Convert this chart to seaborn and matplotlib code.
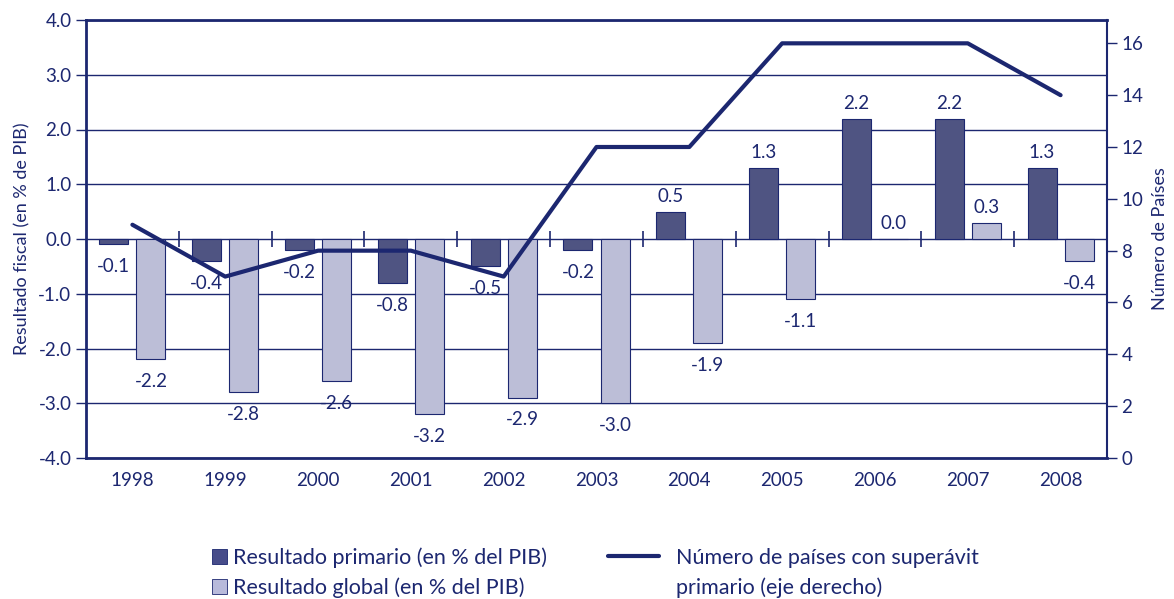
import numpy as np
import pandas as pd
import seaborn as sns
import matplotlib.pyplot as plt
from matplotlib.patches import Patch
from matplotlib.lines import Line2D

years = ["1998", "1999", "2000", "2001", "2002", "2003", "2004", "2005", "2006", "2007", "2008"]
primario = [-0.1, -0.4, -0.2, -0.8, -0.5, -0.2, 0.5, 1.3, 2.2, 2.2, 1.3]
global_ = [-2.2, -2.8, -2.6, -3.2, -2.9, -3.0, -1.9, -1.1, 0.0, 0.3, -0.4]
paises = [9, 7, 8, 8, 7, 12, 12, 16, 16, 16, 14]

lab_prim = "Resultado primario (en % del PIB)"
lab_glob = "Resultado global (en % del PIB)"
lab_line = ["Número de países con superávit", "primario (eje derecho)"]

navy = "#1c2770"
c_prim = "#474d8a"
c_glob = "#b8badb"

sns.set_style("white")
plt.rcParams["font.family"] = ["Lato", "DejaVu Sans"]

df = pd.DataFrame({
    "Año": years * 2,
    "valor": primario + global_,
    "serie": [lab_prim] * len(years) + [lab_glob] * len(years),
})

fig = plt.figure(figsize=(11.74, 5.99), dpi=100)
ax = fig.add_axes([86 / 1174, 1 - 458 / 599, (1107 - 86) / 1174, (458 - 20) / 599])

sns.barplot(data=df, x="Año", y="valor", hue="serie", ax=ax,
            palette=[c_prim, c_glob], gap=0.22, edgecolor=navy, linewidth=0.8,
            legend=False)

# value labels
for cont in ax.containers:
    for bar in cont:
        v = bar.get_height()
        xc = bar.get_x() + bar.get_width() / 2
        off = -16 if v < 0 else 11
        ax.annotate(f"{v:.1f}", (xc, v), xytext=(0, off), textcoords="offset points",
                    ha="center", va="center", fontsize=13.5, color=navy)

ax.set_ylim(-4, 4)
ax.set_xlim(-0.5, len(years) - 0.5)
ax.set_yticks(np.arange(-4, 5, 1))
ax.set_yticklabels([f"{t:.1f}" for t in np.arange(-4, 5, 1)])
ax.grid(axis="y", color=navy, linewidth=1.0)
ax.set_axisbelow(True)
ax.set_xlabel("")
ax.set_ylabel("Resultado fiscal (en % de PIB)", color=navy, fontsize=13, labelpad=6)

# ticks on the zero line between categories
bounds = np.arange(len(years) - 1) + 0.5
ax.vlines(bounds, -0.15, 0.15, color=navy, linewidth=1.2, zorder=3)
ax.set_xticks(bounds, minor=True)
ax.tick_params(axis="x", which="major", length=0, colors=navy, labelsize=13.5, pad=10)
ax.tick_params(axis="x", which="minor", length=6, width=1.2, color=navy, direction="out")
ax.tick_params(axis="y", length=7, width=1, color=navy, labelcolor=navy, labelsize=13.5, direction="out")

for side in ["left", "bottom", "top"]:
    ax.spines[side].set_color(navy)
    ax.spines[side].set_linewidth(2)
ax.spines["right"].set_visible(False)

ax2 = ax.twinx()
sns.lineplot(x=np.arange(len(years)), y=paises, ax=ax2, color=navy, linewidth=3,
             legend=False)
ax2.set_ylim(0, 16.9)
ax2.set_yticks(range(0, 17, 2))
ax2.tick_params(axis="y", length=7, width=1, color=navy, labelcolor=navy, labelsize=13.5, direction="out")
ax2.set_ylabel("Número de Países", color=navy, fontsize=13, labelpad=6)
for side in ["left", "bottom", "top"]:
    ax2.spines[side].set_visible(False)
ax2.spines["right"].set_color(navy)
ax2.spines["right"].set_linewidth(1.5)

h_bars = [Patch(facecolor=c_prim, edgecolor=navy, linewidth=0.6),
          Patch(facecolor=c_glob, edgecolor=navy, linewidth=0.6)]
leg_kw = dict(loc="upper left", frameon=False, fontsize=15.5, labelspacing=0.45,
              labelcolor=navy, borderaxespad=0)
leg1 = fig.legend(h_bars, [lab_prim, lab_glob],
                  bbox_to_anchor=(203 / 1174, 1 - 539 / 599),
                  handlelength=0.7, handleheight=0.7, handletextpad=0.3, **leg_kw)
h_line = [Line2D([], [], color=navy, linewidth=3), Line2D([], [], alpha=0)]
leg2 = fig.legend(h_line, lab_line,
                  bbox_to_anchor=(599 / 1174, 1 - 539 / 599),
                  handlelength=2.4, handleheight=0.7, handletextpad=0.8, **leg_kw)

fig.savefig("out.png", dpi=100)
